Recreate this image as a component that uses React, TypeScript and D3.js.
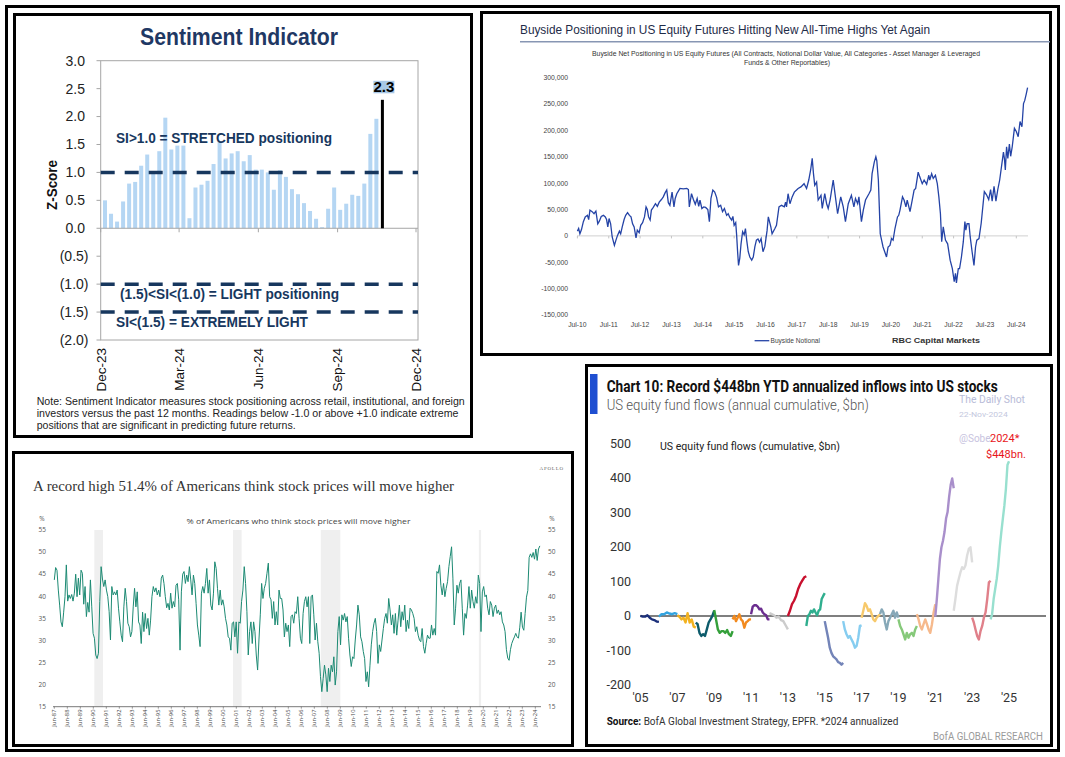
import React from 'react';
import * as d3 from 'd3';

// ================= Panel 1: Sentiment Indicator =================
const siFirstWeek = '2023-12-06';
const siValues = [0.50, 0.26, 0.12, 0.48, 0.80, 0.83, 1.12, 1.32, 1.00, 1.38, 1.98, 1.41, 1.48, 1.48, 0.18, 0.73, 0.78, 0.85, 1.15, 1.55, 1.25, 1.34, 1.38, 1.20, 1.31, 1.05, 1.05, 1.00, 0.69, 1.04, 0.92, 0.70, 0.61, 0.45, 0.31, 0.17, 0.02, 0.35, 0.73, 0.33, 0.44, 0.60, 0.58, 0.80, 1.69, 1.96];
const siLatest = 2.3;
const siYTicks = [3, 2.5, 2, 1.5, 1, 0.5, 0, -0.5, -1, -1.5, -2];
const siXTickDates = ['2023-12-01', '2024-03-01', '2024-06-01', '2024-09-01', '2024-12-01'];
const siXTickLabels = ['Dec-23', 'Mar-24', 'Jun-24', 'Sep-24', 'Dec-24'];
const siThresholds = [1, -1, -1.5];
const siNote = [
  'Note: Sentiment Indicator measures stock positioning across retail, institutional, and foreign',
  'investors versus the past 12 months. Readings below -1.0 or above +1.0 indicate extreme',
  'positions that are significant in predicting future returns.',
];

// ================= Panel 2: Buyside positioning =================
const bsYTicks = [300, 250, 200, 150, 100, 50, 0, -50, -100, -150];
const bsXTickYears = [2010, 2011, 2012, 2013, 2014, 2015, 2016, 2017, 2018, 2019, 2020, 2021, 2022, 2023, 2024];
// [decimal year, $ thousands]
const bsSeries: [number, number][] = [[2010.50,9],[2010.54,14],[2010.58,4],[2010.63,12],[2010.69,27],[2010.75,36],[2010.82,39],[2010.86,31],[2010.90,49],[2010.97,46],[2011.03,42],[2011.09,47],[2011.15,23],[2011.20,28],[2011.26,37],[2011.33,39],[2011.39,36],[2011.43,31],[2011.47,17],[2011.51,33],[2011.56,23],[2011.61,-2],[2011.68,-18],[2011.73,-8],[2011.78,1],[2011.84,9],[2011.88,4],[2011.93,17],[2011.99,31],[2012.04,39],[2012.10,44],[2012.16,39],[2012.21,36],[2012.26,23],[2012.31,17],[2012.37,-4],[2012.41,11],[2012.47,6],[2012.52,20],[2012.58,25],[2012.64,36],[2012.69,55],[2012.73,50],[2012.77,36],[2012.82,30],[2012.86,49],[2012.92,54],[2012.99,61],[2013.05,56],[2013.11,64],[2013.18,69],[2013.24,74],[2013.30,82],[2013.35,87],[2013.40,63],[2013.45,58],[2013.52,83],[2013.58,55],[2013.62,71],[2013.67,80],[2013.72,85],[2013.77,90],[2013.88,89],[2013.99,90],[2014.04,88],[2014.07,55],[2014.14,80],[2014.20,69],[2014.26,60],[2014.32,71],[2014.37,56],[2014.41,68],[2014.47,52],[2014.53,55],[2014.59,54],[2014.66,50],[2014.71,27],[2014.76,71],[2014.82,87],[2014.88,83],[2014.94,73],[2015.00,55],[2015.07,58],[2015.13,46],[2015.19,52],[2015.26,39],[2015.31,42],[2015.36,35],[2015.42,30],[2015.46,37],[2015.50,20],[2015.55,25],[2015.58,1],[2015.61,-30],[2015.64,-56],[2015.68,-42],[2015.72,-15],[2015.77,8],[2015.82,2],[2015.86,14],[2015.90,-8],[2015.95,-30],[2016.00,-40],[2016.06,-46],[2016.11,-40],[2016.16,-21],[2016.21,-8],[2016.26,-6],[2016.31,-12],[2016.36,-5],[2016.42,-30],[2016.48,-20],[2016.55,10],[2016.59,36],[2016.67,17],[2016.71,4],[2016.80,14],[2016.85,20],[2016.93,55],[2017.01,58],[2017.10,55],[2017.14,64],[2017.17,55],[2017.22,80],[2017.28,61],[2017.35,74],[2017.42,83],[2017.49,87],[2017.54,90],[2017.63,93],[2017.73,99],[2017.81,90],[2017.88,106],[2017.94,125],[2017.99,147],[2018.03,118],[2018.07,96],[2018.13,102],[2018.18,68],[2018.27,77],[2018.31,52],[2018.39,80],[2018.45,61],[2018.50,52],[2018.56,68],[2018.66,106],[2018.73,74],[2018.80,42],[2018.84,55],[2018.90,74],[2018.98,55],[2019.05,27],[2019.14,61],[2019.24,77],[2019.32,55],[2019.37,71],[2019.44,61],[2019.48,74],[2019.56,27],[2019.62,49],[2019.69,68],[2019.80,80],[2019.86,87],[2019.90,118],[2019.97,140],[2020.02,150],[2020.05,143],[2020.10,106],[2020.13,55],[2020.16,4],[2020.25,-21],[2020.36,-40],[2020.41,-21],[2020.47,-18],[2020.52,-5],[2020.57,-8],[2020.63,14],[2020.71,36],[2020.75,39],[2020.79,49],[2020.87,74],[2020.92,68],[2020.98,55],[2021.02,68],[2021.11,46],[2021.18,68],[2021.24,87],[2021.29,90],[2021.37,121],[2021.42,112],[2021.50,99],[2021.56,106],[2021.64,98],[2021.71,115],[2021.74,106],[2021.80,118],[2021.85,109],[2021.92,115],[2021.98,99],[2022.03,74],[2022.08,42],[2022.12,-11],[2022.17,17],[2022.24,-8],[2022.31,-15],[2022.39,-46],[2022.46,-62],[2022.52,-87],[2022.56,-71],[2022.59,-89],[2022.65,-62],[2022.69,-62],[2022.75,-40],[2022.81,-11],[2022.86,27],[2022.89,11],[2022.93,23],[2022.99,23],[2023.03,-2],[2023.09,-30],[2023.15,-56],[2023.20,-21],[2023.24,-8],[2023.31,-5],[2023.38,24],[2023.48,84],[2023.55,78],[2023.62,69],[2023.68,88],[2023.73,66],[2023.79,94],[2023.85,66],[2023.91,88],[2023.97,106],[2024.09,159],[2024.12,147],[2024.15,125],[2024.19,169],[2024.23,147],[2024.28,174],[2024.32,151],[2024.37,169],[2024.44,204],[2024.50,198],[2024.56,188],[2024.62,217],[2024.68,207],[2024.73,251],[2024.77,257],[2024.82,270],[2024.86,281]];

// ================= Panel 3: Apollo / % expecting higher =================
const apFirstYear = 1987.42;
const apLastYear = 2024.77;
const apValues = [43.7,46.5,45.9,41.4,38.0,34.2,33.1,36.4,39.9,47.1,38.9,40.3,39.5,40.4,38.9,40.7,45.0,39.9,44.1,40.3,45.9,45.2,38.2,42.2,35.4,38.6,36.4,43.7,37.6,31.6,30.5,26.7,25.9,27.1,38.8,46.7,43.9,42.2,43.7,41.4,39.9,36.5,30.1,42.2,40.3,41.0,40.3,41.4,37.3,34.2,31.2,29.7,37.6,41.8,38.8,33.9,33.1,30.8,32.0,37.6,41.8,37.6,41.0,34.2,33.5,29.3,36.4,32.0,36.1,32.7,35.0,31.2,34.6,39.9,42.2,41.0,41.9,40.3,41.4,39.9,44.1,44.8,42.9,39.9,37.4,38.4,36.9,40.7,37.3,38.8,37.6,42.5,42.9,39.2,27.8,41.0,45.0,45.6,42.9,44.8,43.3,46.7,43.7,40.3,44.8,42.9,38.4,33.5,31.2,28.6,40.7,42.2,40.7,42.9,46.3,40.7,43.7,38.0,36.9,40.7,47.8,46.3,41.8,38.0,41.4,38.0,39.2,37.6,35.0,33.5,30.8,30.5,27.8,33.9,34.2,30.8,34.2,27.1,34.2,33.9,38.8,41.4,46.7,42.9,36.5,26.7,32.0,34.2,29.3,34.2,32.0,26.7,23.3,30.1,35.8,42.9,39.5,41.8,42.9,45.2,
  47.5,39.9,39.2,35.0,38.8,33.5,36.5,33.5,41.4,39.5,39.5,36.9,30.8,33.9,32.0,33.5,28.6,35.4,35.8,33.9,36.5,36.1,39.9,35.0,30.5,29.3,36.1,38.8,39.9,37.6,39.9,29.3,39.9,40.3,35.8,30.1,33.9,29.7,27.1,21.8,18.4,21.4,24.4,22.2,18.4,23.7,20.7,24.4,22.9,26.3,19.9,22.9,32.0,35.4,29.0,35.8,34.6,36.1,34.2,35.4,30.5,26.7,24.1,26.3,25.9,30.1,33.5,38.0,35.8,30.8,29.7,27.5,25.9,20.7,22.9,19.5,24.4,29.0,32.0,33.9,35.0,32.0,24.8,29.0,27.5,30.1,32.7,35.0,36.1,33.9,39.5,36.9,33.5,35.8,31.6,36.1,31.2,34.6,38.0,33.1,36.5,34.6,38.0,32.0,34.6,32.7,37.3,36.9,36.1,35.0,32.0,33.1,31.2,30.1,29.7,32.7,28.6,27.1,29.3,31.2,30.5,30.5,33.5,31.2,32.7,31.2,45.6,45.2,47.1,42.5,40.3,42.9,39.9,41.8,43.3,46.7,49.0,51.2,44.1,33.5,37.3,42.5,40.7,42.9,43.7,37.3,31.2,36.1,35.0,38.0,42.2,37.3,41.4,38.8,37.3,39.9,38.4,44.8,42.9,32.0,41.0,42.2,39.9,40.3,37.3,35.8,38.8,38.0,35.4,37.3,38.0,36.1,36.9,35.8,36.5,34.2,33.5,32.0,
  27.9,26.0,25.5,27.9,29.3,30.1,30.8,31.6,30.8,30.5,33.0,36.4,33.0,32.3,36.1,39.8,41.3,48.8,49.6,48.8,49.9,48.4,50.7,48.1,50.7,51.4];
const apRecessions: [number, number][] = [[1990.5, 1991.17], [2001.17, 2001.83], [2007.92, 2009.42], [2020.08, 2020.25]];
const apYTicks = [55, 50, 45, 40, 35, 30, 25, 20, 15];
const apXTickYears = d3.range(1987, 2025);

// ================= Panel 4: BofA fund flows =================
const flowYears = [2005, 2006, 2007, 2008, 2009, 2010, 2011, 2012, 2013, 2014, 2015, 2016, 2017, 2018, 2019, 2020, 2021, 2022, 2023, 2024];
const flowColors = ['#1b2f7a', '#33a4e0', '#f2b21f', '#0d5b6b', '#34a03a', '#f28a1e', '#6b2d8f', '#cccccc', '#c8102e', '#2fae8e', '#7384b8', '#86cdf0', '#f7c96b', '#86a8b8', '#86c97a', '#f6b98c', '#a98fcb', '#dddddd', '#e0808a', '#98e0cf'];
const flowSeries = [
  [0, -2, -2, 2, -5, -10, -12, -16, -17],
  [-2, 5, 5, 10, 7, 5, 8, 5],
  [2, -2, -10, -5, -19, 8, -19, -10, -31, -34],
  [-19, -24, -49, -58, -53, -58, -39, -19, -10, 0, 15],
  [17, -10, -39, -49, -44, -44, -49, -41, -53, -58, -44],
  [-10, 0, -15, -5, 5, -10, -15, -34, -19, -15, -10, -10],
  [5, 27, 31, 31, 27, 19, 21, 10, 5, 2, -10, -10],
  [8, 5, 2, -5, -2, -12, -15, -27, -39],
  [0, 15, 34, 44, 58, 78, 92, 102, 112, 115],
  [-29, 0, 5, 15, 10, 19, 10, 2, 15, 19, 49, 58, 66],
  [-15, -39, -63, -92, -107, -117, -121, -126, -134, -136, -141, -136],
  [-15, -39, -53, -63, -58, -68, -78, -92, -87, -63, -29, -27],
  [-5, 15, 37, 29, 15, 19, 5, -10, -15, -5, 0, 5],
  [5, 19, 10, -19, -39, -15, -5, 5, 15, -5, 10, -5],
  [-10, -29, -39, -53, -68, -49, -63, -53, -49, -58, -39, -29],
  [5, -10, -29, -39, -24, -10, -24, -39, -49, -24, 10, 34],
  [-2, 49, 107, 165, 199, 218, 243, 282, 301, 345, 379, 398, 370],
  [15, 49, 87, 107, 126, 141, 136, 146, 175, 194, 199, 155],
  [-5, -19, -39, -58, -68, -44, -29, -5, 10, 49, 97, 102],
  [-10, 5, 49, 78, 107, 146, 199, 243, 282, 320, 369, 437, 448],
];
const flowYTicks = [500, 400, 300, 200, 100, 0, -100, -200];
const flowXTickYears = [2005, 2007, 2009, 2011, 2013, 2015, 2017, 2019, 2021, 2023, 2025];

const SANS = 'Liberation Sans, Arial, sans-serif';

function Sentiment() {
  const parse = d3.timeParse('%Y-%m-%d');
  const x = d3.scaleTime().domain([parse('2023-12-01')!, parse('2024-12-01')!]).range([100.7, 416]);
  const y = d3.scaleLinear().domain([-2, 3]).range([340, 60.7]);
  const start = parse(siFirstWeek)!;
  const bars = siValues.map((v, i) => ({ d: d3.timeDay.offset(start, 7 * i), v }));
  const latestDate = d3.timeDay.offset(start, 7 * siValues.length);
  const navy = '#17375e';
  return (
    <g fontFamily={SANS}>
      <text x={239} y={45} fontSize={24} fontWeight="bold" fill="#1f3864" textAnchor="middle" textLength={198} lengthAdjust="spacingAndGlyphs">Sentiment Indicator</text>
      <rect x={100.7} y={60.7} width={317.3} height={279.3} fill="none" stroke="#a6a6a6" strokeWidth={1} />
      {siYTicks.map(t => (
        <g key={t}>
          <line x1={96.5} x2={100.7} y1={y(t)} y2={y(t)} stroke="#a6a6a6" />
          <text x={t < 0 ? 88.5 : 85} y={y(t)} dy="0.35em" fontSize={14} textAnchor="end" fill="#222">{t < 0 ? `(${d3.format('.1f')(-t)})` : d3.format('.1f')(t)}</text>
        </g>
      ))}
      <text transform={`translate(57,185) rotate(-90)`} fontSize={14} fontWeight="bold" textAnchor="middle" fill="#111" textLength={50} lengthAdjust="spacingAndGlyphs">Z-Score</text>
      {bars.map((b, i) => (
        <rect key={i} x={x(b.d) - 2} y={y(b.v)} width={4} height={y(0) - y(b.v)} fill="#b5d6f3" />
      ))}
      <line x1={100.7} x2={418} y1={y(0)} y2={y(0)} stroke="#a6a6a6" />
      {siXTickDates.map((d, i) => (
        <g key={d}>
          <line x1={x(parse(d)!)} x2={x(parse(d)!)} y1={y(0)} y2={y(0) + 4} stroke="#a6a6a6" />
          <text transform={`translate(${x(parse(d)!)},348) rotate(-90)`} dy="0.36em" fontSize={13.5} textAnchor="end" fill="#111">{siXTickLabels[i]}</text>
        </g>
      ))}
      {siThresholds.map(t => (
        <line key={t} x1={100.7} x2={418} y1={y(t)} y2={y(t)} stroke={navy} strokeWidth={3.5} strokeDasharray="14 10" />
      ))}
      <line x1={x(latestDate)} x2={x(latestDate)} y1={y(0)} y2={y(siLatest)} stroke="#000" strokeWidth={3} />
      <rect x={x(latestDate) - 9} y={y(siLatest) - 19} width={21} height={12.5} fill="#a8c8e6" />
      <text x={x(latestDate) + 1.5} y={y(siLatest) - 7.5} fontSize={15} fontWeight="bold" textAnchor="middle" fill="#000">{d3.format('.1f')(siLatest)}</text>
      <text x={116} y={143.3} fontSize={14} fontWeight="bold" fill={navy} textLength={216} lengthAdjust="spacingAndGlyphs">SI&gt;1.0 = STRETCHED positioning</text>
      <text x={120} y={299.3} fontSize={14} fontWeight="bold" fill={navy} textLength={219} lengthAdjust="spacingAndGlyphs">(1.5)&lt;SI&lt;(1.0) = LIGHT positioning</text>
      <text x={116} y={327.3} fontSize={14} fontWeight="bold" fill={navy} textLength={192} lengthAdjust="spacingAndGlyphs">SI&lt;(1.5) = EXTREMELY LIGHT</text>
      {siNote.map((l, i) => (
        <text key={i} x={36.7} y={405 + i * 12.2} fontSize={10.5} fill="#222" textLength={[428, 421.7, 259][i]} lengthAdjust="spacingAndGlyphs">{l}</text>
      ))}
    </g>
  );
}

function Buyside() {
  const x = d3.scaleLinear().domain([2010.5, 2024.5]).range([577.4, 1016.3]);
  const y = d3.scaleLinear().domain([-150, 300]).range([315, 77.7]);
  const line = d3.line<[number, number]>().x(d => x(d[0])).y(d => y(d[1]));
  const fmt = (v: number) => (v === 0 ? '0' : (v < 0 ? '-' : '') + d3.format(',')(Math.abs(v) * 1000));
  return (
    <g fontFamily={SANS}>
      <text x={520} y={34} fontSize={12.5} fill="#1e2b48" textLength={410} lengthAdjust="spacingAndGlyphs">Buyside Positioning in US Equity Futures Hitting New All-Time Highs Yet Again</text>
      <line x1={520} x2={1050} y1={41.7} y2={41.7} stroke="#8796b3" strokeWidth={1.5} />
      <text x={786} y={55.5} fontSize={6.4} fill="#333" textAnchor="middle" textLength={388} lengthAdjust="spacingAndGlyphs">Buyside Net Positioning in US Equity Futures (All Contracts, Notional Dollar Value, All Categories - Asset Manager &amp; Leveraged</text>
      <text x={787} y={64.5} fontSize={6.4} fill="#333" textAnchor="middle" textLength={86} lengthAdjust="spacingAndGlyphs">Funds &amp; Other Reportables)</text>
      {bsYTicks.map(t => (
        <text key={t} x={568} y={y(t)} dy="0.35em" fontSize={6.8} textAnchor="end" fill="#444">{fmt(t)}</text>
      ))}
      <line x1={577} x2={1028} y1={y(0)} y2={y(0)} stroke="#d0d0d0" />
      {bsXTickYears.map(yr => (
        <g key={yr}>
          <line x1={x(yr + 0.5)} x2={x(yr + 0.5)} y1={y(0)} y2={y(0) + 2.5} stroke="#c4c4c4" />
          <text x={x(yr + 0.5)} y={327} fontSize={6.8} textAnchor="middle" fill="#444">{`Jul-${String(yr).slice(2)}`}</text>
        </g>
      ))}
      <path d={line(bsSeries) || ''} fill="none" stroke="#2443a6" strokeWidth={1.3} />
      <line x1={754.6} x2={769.3} y1={340.7} y2={340.7} stroke="#2443a6" strokeWidth={1.3} />
      <text x={770.5} y={343} fontSize={6.6} fill="#444">Buyside Notional</text>
      <text x={892} y={343.3} fontSize={8} fontWeight="bold" fill="#333" textLength={88} lengthAdjust="spacingAndGlyphs">RBC Capital Markets</text>
    </g>
  );
}

function Apollo() {
  const x = d3.scaleLinear().domain([1987.42, 2024.42]).range([54.3, 535.3]);
  const y = d3.scaleLinear().domain([15, 55]).range([706.7, 530]);
  const step = (apLastYear - apFirstYear) / (apValues.length - 1);
  const pts: [number, number][] = apValues.map((v, i) => [apFirstYear + i * step, v]);
  const line = d3.line<[number, number]>().x(d => x(d[0])).y(d => y(d[1]));
  return (
    <g>
      <text x={564} y={469.5} fontSize={5} letterSpacing={0.8} textAnchor="end" fill="#666" fontFamily="Liberation Serif, serif">APOLLO</text>
      <text x={33} y={490.5} fontSize={15.5} fill="#333" fontFamily="Liberation Serif, serif" textLength={421} lengthAdjust="spacingAndGlyphs">A record high 51.4% of Americans think stock prices will move higher</text>
      <g fontFamily="Open Sans, Liberation Sans, sans-serif">
        <text x={298.6} y={524} fontSize={7.6} fill="#444" textAnchor="middle" textLength={224} lengthAdjust="spacingAndGlyphs">% of Americans who think stock prices will move higher</text>
        {apRecessions.map(([a, b]) => (
          <rect key={a} x={x(a)} y={530} width={x(b) - x(a)} height={176.7} fill="#efefef" />
        ))}
        <text x={42} y={521} fontSize={6.5} textAnchor="middle" fill="#555">%</text>
        <text x={552} y={521} fontSize={6.5} textAnchor="middle" fill="#555">%</text>
        {apYTicks.map(t => (
          <g key={t}>
            <text x={46} y={y(t)} dy="0.35em" fontSize={6.5} textAnchor="end" fill="#555">{t}</text>
            <text x={548} y={y(t)} dy="0.35em" fontSize={6.5} textAnchor="start" fill="#555">{t}</text>
          </g>
        ))}
        <line x1={53} x2={541} y1={y(15)} y2={y(15)} stroke="#555" strokeWidth={0.8} />
        {apXTickYears.map(yr => (
          <g key={yr}>
            <line x1={x(yr + 0.42)} x2={x(yr + 0.42)} y1={y(15)} y2={y(15) + 2} stroke="#555" strokeWidth={0.6} />
            <text transform={`translate(${x(yr + 0.42)},709.5) rotate(-90)`} dy="0.33em" fontSize={5.8} textAnchor="end" fill="#444">{`Jun-${String(yr).slice(2)}`}</text>
          </g>
        ))}
        <path d={line(pts) || ''} fill="none" stroke="#1c8a73" strokeWidth={1} />
      </g>
    </g>
  );
}

function Flows() {
  const x = d3.scaleLinear().domain([2005, 2025]).range([640.5, 1009]);
  const y = d3.scaleLinear().domain([-200, 500]).range([685, 443.3]);
  const line = d3.line<[number, number]>().x(d => x(d[0])).y(d => y(d[1]));
  const F = 'Roboto, Liberation Sans, sans-serif';
  return (
    <g fontFamily={F}>
      <rect x={590} y={374} width={7.5} height={40} fill="#1f4fd1" />
      <text x={606.7} y={391.7} fontSize={16} fontWeight="bold" fill="#111" textLength={391} lengthAdjust="spacingAndGlyphs">Chart 10: Record $448bn YTD annualized inflows into US stocks</text>
      <text x={606.7} y={410} fontSize={14} fontWeight={300} fill="#555" textLength={262} lengthAdjust="spacingAndGlyphs">US equity fund flows (annual cumulative, $bn)</text>
      <text x={959} y={403.3} fontSize={10} fill="#b8bcd8" textLength={66} lengthAdjust="spacingAndGlyphs">The Daily Shot</text>
      <text x={959} y={417.3} fontSize={7.2} fill="#c4c8de" textLength={48.7} lengthAdjust="spacingAndGlyphs">22-Nov-2024</text>
      <text x={959} y={442.3} fontSize={10} fill="#c8c4e0">@Sobe</text>
      <text x={660} y={450} fontSize={11.5} fill="#222" textLength={180} lengthAdjust="spacingAndGlyphs">US equity fund flows (cumulative, $bn)</text>
      {flowYTicks.map(t => (
        <text key={t} x={631} y={y(t)} dy="0.35em" fontSize={12.5} textAnchor="end" fill="#333">{t}</text>
      ))}
      {flowXTickYears.map(yr => (
        <text key={yr} x={x(yr)} y={701.7} fontSize={12.5} textAnchor="middle" fill="#333">{`'${String(yr).slice(2)}`}</text>
      ))}
      <line x1={640} x2={1046} y1={y(0)} y2={y(0)} stroke="#555" strokeWidth={1.5} />
      {flowSeries.map((s, k) => {
        const pts: [number, number][] = s.map((v, i) => [flowYears[k] + i / (s.length - 1), v]);
        return <path key={k} d={line(pts) || ''} fill="none" stroke={flowColors[k]} strokeWidth={2.4} strokeLinejoin="round" />;
      })}
      <text x={990} y={441.7} fontSize={11} fill="#e8161b">2024*</text>
      <text x={986} y={457.7} fontSize={11} fill="#e8161b">$448bn.</text>
      <text x={606.7} y={725} fontSize={11} fill="#333" textLength={291.6} lengthAdjust="spacingAndGlyphs"><tspan fontWeight="bold" fill="#111">Source:</tspan> BofA Global Investment Strategy, EPFR. *2024 annualized</text>
      <text x={1043} y={740} fontSize={11} fill="#9a9a9a" textAnchor="end" textLength={110} lengthAdjust="spacingAndGlyphs">BofA GLOBAL RESEARCH</text>
    </g>
  );
}

export default function App() {
  return (
    <svg width={1065} height={757} style={{ position: 'absolute', left: 0, top: 0, background: '#fff' }}>
      <rect x={0} y={0} width={1065} height={757} fill="#fff" />
      <rect x={6.5} y={6.5} width={1052} height={744} fill="none" stroke="#000" strokeWidth={3} />
      <rect x={14.5} y={14.5} width={457} height={422} fill="#fff" stroke="#000" strokeWidth={3} />
      <rect x={481.5} y={12.5} width={569} height={342} fill="#fff" stroke="#000" strokeWidth={3} />
      <rect x={13.5} y={452.5} width={559} height={293} fill="#fff" stroke="#000" strokeWidth={3} />
      <rect x={586.5} y={365.5} width={465} height={380} fill="#fff" stroke="#000" strokeWidth={3} />
      <Sentiment />
      <Buyside />
      <Apollo />
      <Flows />
    </svg>
  );
}
